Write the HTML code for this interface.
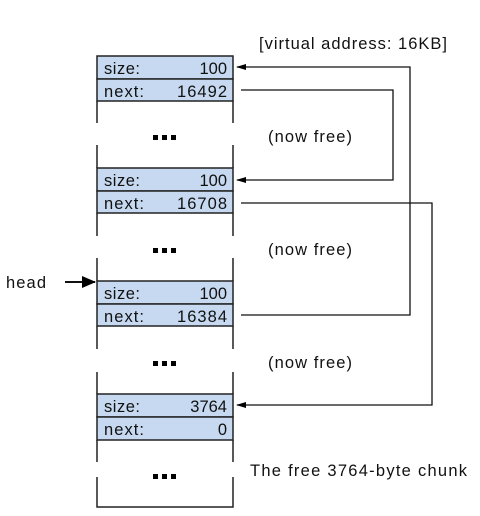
<!DOCTYPE html>
<html><head><style>body{margin:0;background:#fff}svg{display:block}text{font-family:"Liberation Sans",sans-serif;font-size:16.5px;fill:#111}</style></head><body>
<svg width="480" height="516" viewBox="0 0 480 516" xmlns="http://www.w3.org/2000/svg">
<defs><marker id="a" markerWidth="10" markerHeight="8" refX="9" refY="4" orient="auto" markerUnits="userSpaceOnUse"><path d="M0,1 L10,4 L0,7 z" fill="#000"/></marker>
<marker id="b" markerWidth="14" markerHeight="12" refX="13" refY="6" orient="auto" markerUnits="userSpaceOnUse"><path d="M0,0 L14,6 L0,12 z" fill="#000"/></marker></defs>
<g fill="#c6d9f0" stroke="#222" stroke-width="1.5">
<rect x="97" y="56" width="136" height="23"/><rect x="97" y="79" width="136" height="22"/>
<rect x="97" y="168" width="136" height="23"/><rect x="97" y="191" width="136" height="22"/>
<rect x="97" y="281" width="136" height="23"/><rect x="97" y="304" width="136" height="22"/>
<rect x="97" y="394" width="136" height="23"/><rect x="97" y="417" width="136" height="23"/>
</g>
<g stroke="#222" stroke-width="1.5" fill="none">
<path d="M97 101V123M233 101V123M97 145V168M233 145V168"/>
<path d="M97 213V236M233 213V236M97 258V281M233 258V281"/>
<path d="M97 326V349M233 326V349M97 372V394M233 372V394"/>
<path d="M97 440V462M233 440V462M97 477V507H233V477"/>
</g>
<g fill="#000"><rect x="153" y="135" width="5" height="5"/><rect x="162" y="135" width="5" height="5"/><rect x="171" y="135" width="5" height="5"/>
<rect x="153" y="248" width="5" height="5"/><rect x="162" y="248" width="5" height="5"/><rect x="171" y="248" width="5" height="5"/>
<rect x="153" y="361" width="5" height="5"/><rect x="162" y="361" width="5" height="5"/><rect x="171" y="361" width="5" height="5"/>
<rect x="153" y="474" width="5" height="5"/><rect x="162" y="474" width="5" height="5"/><rect x="171" y="474" width="5" height="5"/></g>
<g>
<text x="104" y="74" textLength="36">size:</text><text x="227" y="74" text-anchor="end">100</text>
<text x="104" y="97" textLength="40">next:</text><text x="227" y="97" text-anchor="end" textLength="50">16492</text>
<text x="104" y="186" textLength="36">size:</text><text x="227" y="186" text-anchor="end">100</text>
<text x="104" y="209" textLength="40">next:</text><text x="227" y="209" text-anchor="end" textLength="50">16708</text>
<text x="104" y="299" textLength="36">size:</text><text x="227" y="299" text-anchor="end">100</text>
<text x="104" y="322" textLength="40">next:</text><text x="227" y="322" text-anchor="end" textLength="50">16384</text>
<text x="104" y="412" textLength="36">size:</text><text x="227" y="412" text-anchor="end">3764</text>
<text x="104" y="435" textLength="40">next:</text><text x="227" y="435" text-anchor="end">0</text>
<text x="259" y="49" textLength="188">[virtual address: 16KB]</text>
<text x="268" y="142" textLength="84">(now free)</text>
<text x="268" y="255" textLength="84">(now free)</text>
<text x="268" y="368" textLength="84">(now free)</text>
<text x="250" y="476" textLength="217">The free 3764-byte chunk</text>
<text x="6" y="288" textLength="40">head</text>
</g>
<g stroke="#111" stroke-width="1.3" fill="none">
<path d="M65 282H95" stroke-width="2" marker-end="url(#b)"/>
<path d="M241 315H410V67H237" marker-end="url(#a)"/>
<path d="M241 90H393V180H237" marker-end="url(#a)"/>
<path d="M241 203H432V405H237" marker-end="url(#a)"/>
</g>
</svg>
</body></html>
